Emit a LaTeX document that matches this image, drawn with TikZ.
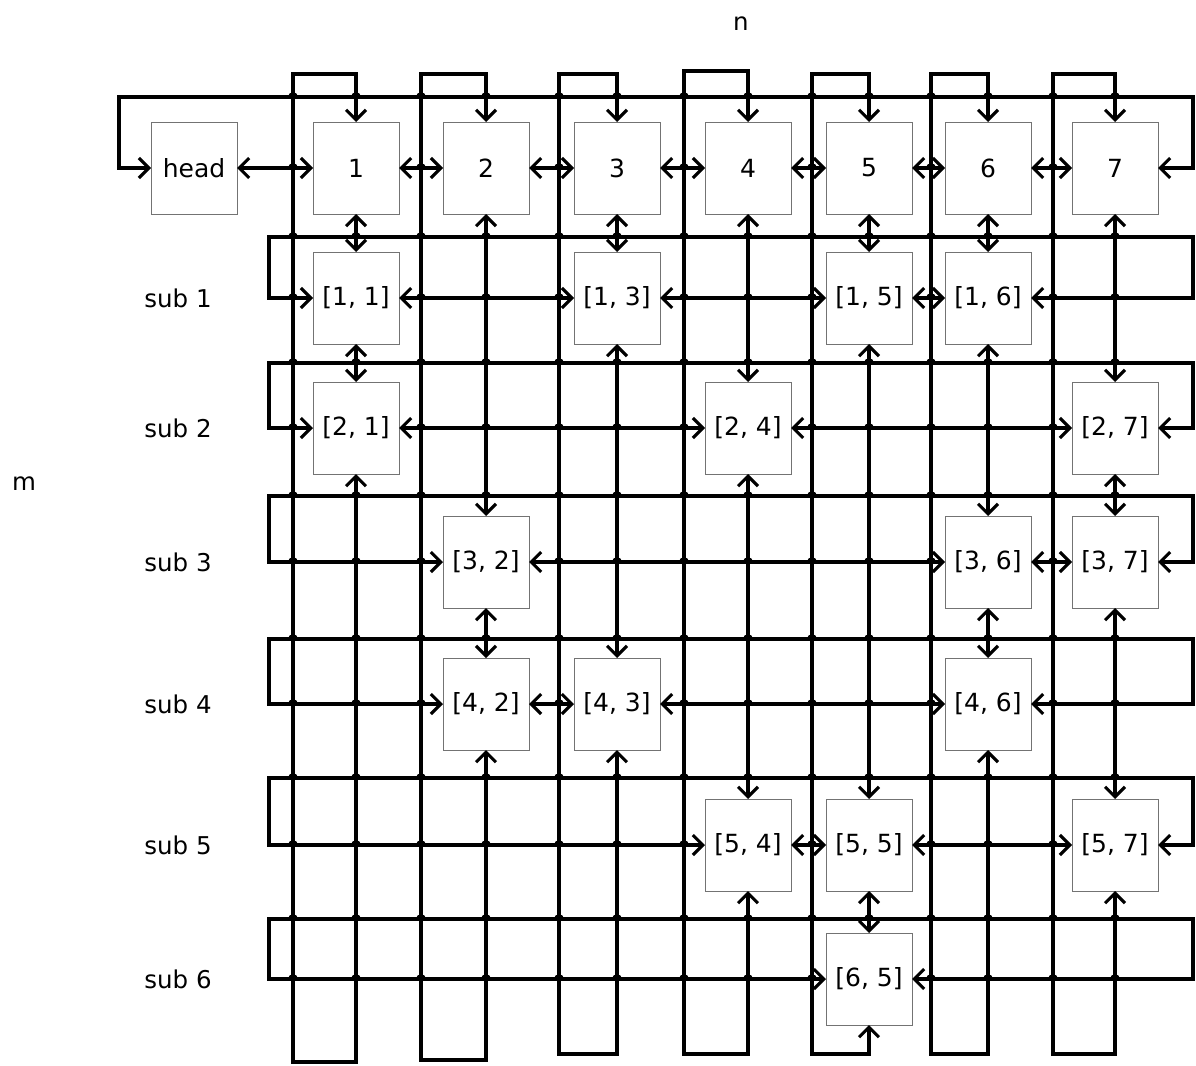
\documentclass[tikz,border=0pt]{standalone}
\usepackage{fontspec}
\setmainfont{DejaVu Sans}
\usetikzlibrary{arrows.meta}

\begin{document}
\begin{tikzpicture}[
    x=1pt, y=-1pt,
    >={Straight Barb[length=10pt, width=20pt]},
    cell/.style={rectangle, draw=black!55, line width=1pt, fill=white, minimum width=86pt, minimum height=92pt, inner sep=0pt, outer sep=0pt, font=\fontsize{25}{29}\selectfont},
    tag/.style={inner sep=0pt, font=\fontsize{24.5}{29}\selectfont},
    link/.style={<->, line width=3.1pt},
    hop/.style={line width=1.9pt}
]
\useasboundingbox (0,0) rectangle (1196,1065);

% axis labels
\node[tag] (n) at (741,24) {n};
\node[tag] (m) at (24,484) {m};

% line hops at the crossings (cells drawn later hide the ones under them)
\foreach \x in {293,356,421,486,559,617,684,748,812,869,931,988,1053,1115}
  \foreach \y in {97,168,237,298,363,428,496,562,639,704,778,845,919,979}
    \draw[hop] (\x-4,\y) .. controls (\x-4,\y-5) and (\x+4,\y-5) .. (\x+4,\y);

% header row
\node[cell] (head) at (194,168) {head};
\foreach \c/\x in {1/356,2/486,3/617,4/748,5/869,6/988,7/1115}
  \node[cell] (h\c) at (\x,168) {\c};

% row labels
\foreach \r/\y in {1/298,2/428,3/562,4/704,5/845,6/979}
  \node[tag] (s\r) at (178,\y) {sub \r};

% non-zero cells
\foreach \r/\c in {1/1,1/3,1/5,1/6,2/1,2/4,2/7,3/2,3/6,3/7,4/2,4/3,4/6,5/4,5/5,5/7,6/5}
  \node[cell] (c\r\c) at (h\c |- s\r) {[\r, \c]};

% links along the rows
\foreach \a/\b in {head/h1,h1/h2,h2/h3,h3/h4,h4/h5,h5/h6,h6/h7,
    c11/c13,c13/c15,c15/c16,c21/c24,c24/c27,c32/c36,c36/c37,
    c42/c43,c43/c46,c54/c55,c55/c57}
  \draw[link] (\a.east) -- (\b.west);

% links down the columns
\foreach \a/\b in {h1/c11,c11/c21,h2/c32,c32/c42,h3/c13,c13/c43,h4/c24,c24/c54,
    h5/c15,c15/c55,c55/c65,h6/c16,c16/c36,c36/c46,h7/c27,c27/c37,c37/c57}
  \draw[link] (\a.south) -- (\b.north);

% row wrap-around
\coordinate (wl0) at (119,97);
\coordinate (wr0) at (1193,97);
\draw[link] (h7.east) -| (wr0) -- (wl0) |- (head.west);
\foreach \r/\w/\fst/\lst in {1/237/c11/c16,2/363/c21/c27,3/496/c32/c37,
    4/639/c42/c46,5/778/c54/c57,6/919/c65/c65}{
  \coordinate (wl\r) at (269,\w);
  \coordinate (wr\r) at (1193,\w);
  \draw[link] (\lst.east) -| (wr\r) -- (wl\r) |- (\fst.west);
}

% column wrap-around
\foreach \c/\wx/\top/\bot/\lst in {1/293/74/1062/c21,2/421/74/1060/c42,3/559/74/1054/c43,
    4/684/71/1054/c54,5/812/74/1054/c65,6/931/74/1054/c46,7/1053/74/1054/c57}{
  \coordinate (wt\c) at (\wx,\top);
  \coordinate (wb\c) at (\wx,\bot);
  \draw[link] (\lst.south) |- (wb\c) -- (wt\c) -| (h\c.north);
}
\end{tikzpicture}
\end{document}
